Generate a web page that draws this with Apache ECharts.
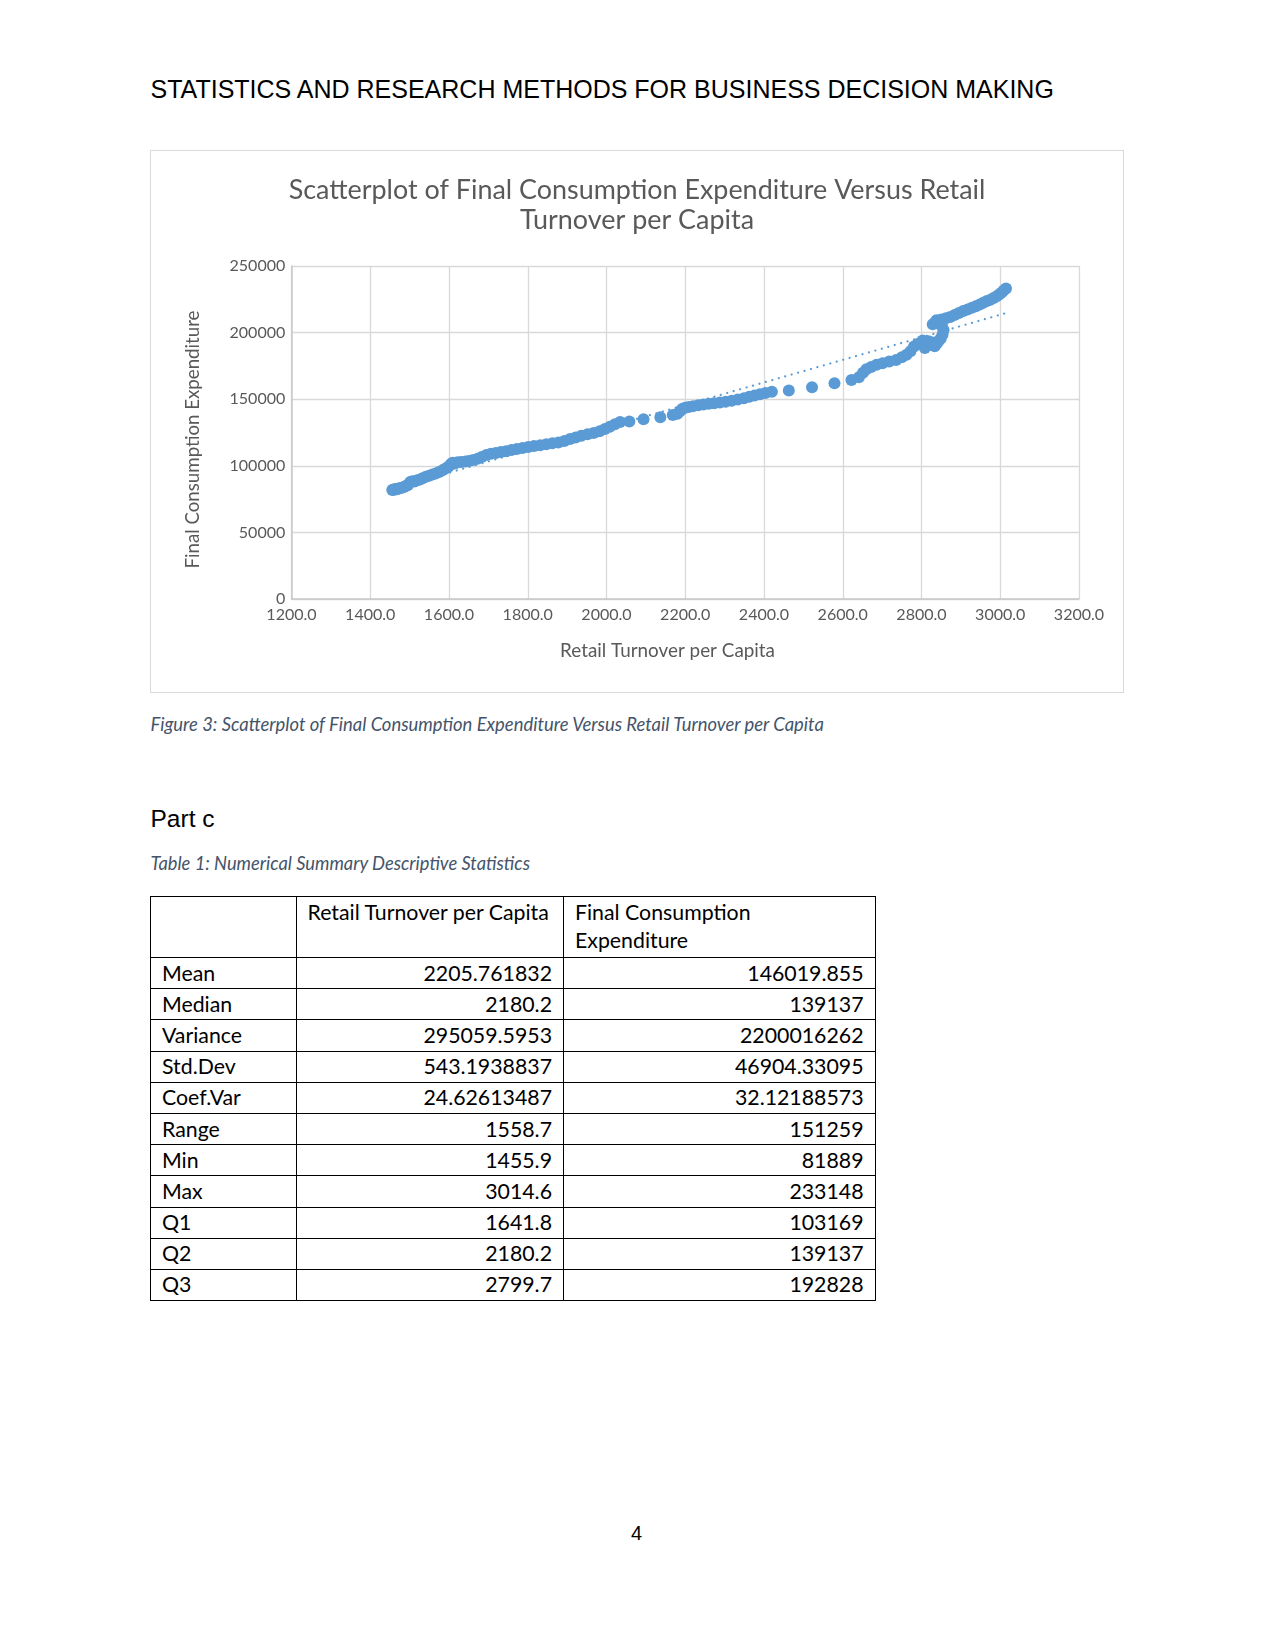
<!DOCTYPE html>
<html>
<head>
<meta charset="utf-8">
<script src="https://cdn.jsdelivr.net/npm/echarts@6/dist/echarts.min.js"></script>
<style>
  html, body { margin: 0; padding: 0; background: #fff; }
  #page { position: relative; width: 1275px; height: 1651px; overflow: hidden; }
  .abs { position: absolute; white-space: nowrap; }
  #chart { position: absolute; left: 150px; top: 150px; width: 974px; height: 543px; }
  #frame { position: absolute; left: 150px; top: 150px; width: 974px; height: 543px; box-sizing: border-box; border: 1px solid #D9D9D9; pointer-events: none; }
  #stats { position: absolute; left: 150px; top: 896px; border-collapse: collapse; table-layout: fixed; }
  #stats td { border: 1px solid #000; padding: 0; box-sizing: border-box; color: #000; white-space: nowrap; }
  #stats td.lbl { padding-left: 11px; text-align: left; }
  #stats td.val { padding-right: 11px; text-align: right; }
  #stats tr.head td { vertical-align: top; padding-top: 1px; padding-right: 60px; white-space: normal; }
</style>
</head>
<body>
<div id="page">
  <div id="hdr" class="abs">STATISTICS AND RESEARCH METHODS FOR BUSINESS DECISION MAKING</div>
  <div id="chart"></div>
  <div id="frame"></div>
  <div id="figcap" class="abs">Figure 3: Scatterplot of Final Consumption Expenditure Versus Retail Turnover per Capita</div>
  <div id="partc" class="abs">Part c</div>
  <div id="tabcap" class="abs">Table 1: Numerical Summary Descriptive Statistics</div>
  <table id="stats"></table>
  <div id="pnum" class="abs">4</div>
</div>
<script>
// ---------------- data ----------------
const retailTurnover = [
  1455.9, 1458.5, 1461.0, 1464.2, 1467.5, 1471.0, 1475.3, 1480.1, 1485.6, 1490.2,
  1496.0, 1501.4, 1506.8, 1512.5, 1519.3, 1526.4, 1533.0, 1541.2, 1549.5, 1557.8,
  1566.1, 1574.9, 1583.6, 1591.2, 1598.7, 1604.3, 1608.8, 1614.5, 1622.0, 1630.7,
  1641.8,
  1650.4, 1661.2, 1672.5, 1683.0, 1694.8, 1706.3, 1718.9, 1731.5, 1745.0, 1758.6,
  1772.4, 1786.9, 1801.3, 1816.0, 1831.7, 1847.2, 1862.5, 1877.8, 1893.0, 1907.4,
  1921.6, 1936.0, 1951.8, 1967.3, 1982.5, 1996.0, 2008.7, 2021.4, 2034.5, 2058.0,
  2094.0, 2136.7, 2168.3, 2180.2,
  2186.5, 2192.0, 2199.4, 2208.8, 2220.3, 2233.1, 2246.0, 2259.7, 2273.5, 2288.0,
  2302.6, 2318.0, 2333.4, 2349.0, 2362.5, 2376.0, 2389.7, 2403.5, 2420.0, 2463.0,
  2522.0, 2579.0, 2622.0, 2641.0, 2651.5, 2660.0, 2672.0, 2686.0, 2701.0, 2718.0,
  2735.5, 2750.0, 2762.0, 2772.0, 2781.0, 2790.0, 2799.7,
  2803.0, 2808.5, 2813.0, 2818.0, 2823.0, 2828.0, 2833.5, 2839.0, 2844.0, 2849.0,
  2853.5, 2856.0, 2852.0, 2843.0, 2835.0, 2828.5, 2838.0, 2850.0, 2862.0, 2873.0,
  2884.0, 2895.0, 2906.0, 2917.0, 2928.0, 2938.0, 2948.0, 2957.0, 2966.0, 2975.0,
  2983.0, 2991.0, 2998.0, 3004.0, 3009.0, 3014.6
];
const finalConsumption = [
  81889, 82300, 82100, 82600, 82400, 82900, 83200, 83600, 84100, 84900,
  85600, 87900, 88400, 88200, 89100, 89800, 90600, 91700, 92600, 93500,
  94300, 95400, 96700, 97900, 99200, 101200, 102300, 101800, 102600, 102900,
  103169,
  103600, 104300, 105200, 106600, 108100, 109000, 109600, 110300, 111000, 111900,
  112600, 113400, 114100, 114800, 115400, 116200, 116900, 117500, 118600, 120200,
  121300, 122500, 123600, 124700, 126000, 127600, 129400, 131200, 132800, 133300,
  135000, 136500, 138200, 139137,
  141000, 142600, 143500, 144200, 144800, 145500, 146100, 146500, 147000, 147500,
  148000, 148800, 149700, 150800, 151900, 152800, 153800, 154700, 155600, 156500,
  159000, 162000, 164400, 166500, 169800, 172500, 174200, 175800, 177000, 178300,
  179500, 181500, 183300, 186000, 189500, 191500, 192828,
  194000, 188500, 191200, 193500, 190800, 192600, 189800, 191900, 193800, 195600,
  198500, 202000, 205000, 206800, 207600, 206200, 209300, 209900, 210700, 211800,
  213200, 214800, 216200, 217300, 218600, 219800, 221100, 222400, 223800, 224600,
  225900, 227300, 228800, 230200, 231700, 233148
];
const xTicks = { min: 1200, max: 3200, step: 200 };
const yTicks = { min: 0, max: 250000, step: 50000 };

const statRows = ['Mean', 'Median', 'Variance', 'Std.Dev', 'Coef.Var', 'Range', 'Min', 'Max', 'Q1', 'Q2', 'Q3'];
const statRetail = ['2205.761832', '2180.2', '295059.5953', '543.1938837', '24.62613487', '1558.7', '1455.9', '3014.6', '1641.8', '2180.2', '2799.7'];
const statFinal = ['146019.855', '139137', '2200016262', '46904.33095', '32.12188573', '151259', '81889', '233148', '103169', '139137', '192828'];
const statHeaders = ['', 'Retail Turnover per Capita', 'Final Consumption Expenditure'];

const chartTitle = 'Scatterplot of Final Consumption Expenditure Versus Retail\nTurnover per Capita';
const xName = 'Retail Turnover per Capita';
const yName = 'Final Consumption Expenditure';

// ---------------- font fitting ----------------
const cv = document.createElement('canvas').getContext('2d');
function fit(text, style, family, target) {
  cv.font = style + ' 100px ' + family;
  return 100 * target / cv.measureText(text).width;
}
const CAL = 'Lato, "Open Sans", sans-serif';
const ARI = '"Liberation Sans", Arial, sans-serif';

const titleSize = fit('Scatterplot of Final Consumption Expenditure Versus Retail', '', CAL, 697);
const tickSize = (fit('250000', '', CAL, 55.8) + fit('1200.0', '', CAL, 50.5)) / 2;
const xNameSize = fit(xName, '', CAL, 215);
const yNameSize = fit(yName, '', CAL, 258);

function place(id, family, style, size, left, centerY, color) {
  const el = document.getElementById(id);
  el.style.fontFamily = family;
  el.style.fontStyle = style || 'normal';
  el.style.fontSize = size + 'px';
  el.style.lineHeight = (size * 1.2) + 'px';
  el.style.left = left + 'px';
  el.style.top = (centerY - size * 0.6) + 'px';
  el.style.color = color;
}
place('hdr', ARI, 'normal', fit('STATISTICS AND RESEARCH METHODS FOR BUSINESS DECISION MAKING', '', ARI, 905), 150.5, 89.5, '#000');
place('figcap', CAL, 'italic', fit('Figure 3: Scatterplot of Final Consumption Expenditure Versus Retail Turnover per Capita', 'italic', CAL, 676), 150.5, 724.5, '#44546A');
place('partc', ARI, 'normal', fit('Part c', '', ARI, 64), 150.5, 818.5, '#000');
place('tabcap', CAL, 'italic', fit('Table 1: Numerical Summary Descriptive Statistics', 'italic', CAL, 380), 150.5, 863.5, '#44546A');
place('pnum', ARI, 'normal', 20, 631, 1533, '#000');

// ---------------- table ----------------
const tblSize = fit('Retail Turnover per Capita', '', CAL, 243);
const tbl = document.getElementById('stats');
tbl.style.fontFamily = CAL;
tbl.style.fontSize = tblSize + 'px';
const colW = [145.5, 267.5, 311.5];
const cg = document.createElement('colgroup');
colW.forEach(w => { const c = document.createElement('col'); c.style.width = w + 'px'; cg.appendChild(c); });
tbl.appendChild(cg);
tbl.style.width = (colW[0] + colW[1] + colW[2]) + 'px';
const hr = document.createElement('tr');
hr.className = 'head';
hr.style.height = '61px';
statHeaders.forEach((h, i) => {
  const td = document.createElement('td');
  td.className = 'lbl';
  td.style.lineHeight = '28.3px';
  if (i === 1) td.style.paddingRight = '0px';
  td.textContent = h;
  hr.appendChild(td);
});
tbl.appendChild(hr);
statRows.forEach((r, i) => {
  const tr = document.createElement('tr');
  tr.style.height = '31.2px';
  const a = document.createElement('td'); a.className = 'lbl'; a.textContent = r;
  const b = document.createElement('td'); b.className = 'val'; b.textContent = statRetail[i];
  const c = document.createElement('td'); c.className = 'val'; c.textContent = statFinal[i];
  [a, b, c].forEach(td => { td.style.lineHeight = '29px'; tr.appendChild(td); });
  tbl.appendChild(tr);
});

// ---------------- chart ----------------
const points = retailTurnover.map((x, i) => [x, finalConsumption[i]]);
// linear least-squares trendline
const n = points.length;
let sx = 0, sy = 0, sxx = 0, sxy = 0;
points.forEach(p => { sx += p[0]; sy += p[1]; sxx += p[0] * p[0]; sxy += p[0] * p[1]; });
const slope = (n * sxy - sx * sy) / (n * sxx - sx * sx);
const icpt = (sy - slope * sx) / n;
const xmin = Math.min(...retailTurnover), xmax = Math.max(...retailTurnover);
const trend = [[xmin, icpt + slope * xmin], [xmax, icpt + slope * xmax]];

const txt = '#595959';
const chart = echarts.init(document.getElementById('chart'), null, { renderer: 'canvas' });
chart.setOption({
  animation: false,
  backgroundColor: '#fff',
  graphic: [
    {
      type: 'text', x: 487, y: 25.8, silent: true,
      style: { text: chartTitle, textAlign: 'center', textVerticalAlign: 'top', fontFamily: CAL, fontSize: titleSize, lineHeight: 29.5, fill: txt }
    },
    {
      type: 'text', x: 517.5, y: 500.6, silent: true,
      style: { text: xName, textAlign: 'center', textVerticalAlign: 'middle', fontFamily: CAL, fontSize: xNameSize, fill: txt }
    },
    {
      type: 'text', x: 42.7, y: 289.5, rotation: Math.PI / 2, silent: true,
      style: { text: yName, textAlign: 'center', textVerticalAlign: 'middle', fontFamily: CAL, fontSize: yNameSize, fill: txt }
    }
  ],
  grid: { left: 141.5, top: 116, width: 787.5, height: 333, containLabel: false },
  xAxis: {
    type: 'value',
    min: xTicks.min, max: xTicks.max, interval: xTicks.step,
    axisLine: { show: true, lineStyle: { color: '#C8C8C8', width: 1.5 } },
    axisTick: { show: false },
    axisLabel: { margin: 7.5, fontFamily: CAL, fontSize: tickSize, color: txt, formatter: v => v.toFixed(1), showMinLabel: true, showMaxLabel: true },
    splitLine: { show: true, lineStyle: { color: '#D9D9D9', width: 1.3 } }
  },
  yAxis: {
    type: 'value',
    min: yTicks.min, max: yTicks.max, interval: yTicks.step,
    axisLine: { show: true, lineStyle: { color: '#C8C8C8', width: 1.5 } },
    axisTick: { show: false },
    axisLabel: { margin: 6.2, fontFamily: CAL, fontSize: tickSize, color: txt, formatter: v => String(v), showMinLabel: true, showMaxLabel: true },
    splitLine: { show: true, lineStyle: { color: '#D9D9D9', width: 1.3 } }
  },
  series: [
    {
      type: 'line',
      data: trend,
      z: 1,
      showSymbol: false,
      symbol: 'none',
      silent: true,
      lineStyle: { color: '#5B9BD5', width: 2.2, type: [0.1, 6.6], cap: 'round' }
    },
    {
      type: 'scatter',
      data: points,
      z: 2,
      symbol: 'circle',
      symbolSize: 12,
      itemStyle: { color: '#5B9BD5', opacity: 1 }
    }
  ]
});
</script>
</body>
</html>
